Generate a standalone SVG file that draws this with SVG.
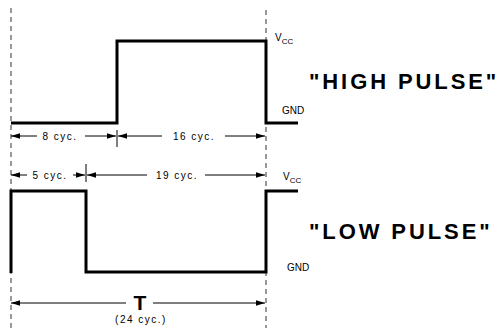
<svg xmlns="http://www.w3.org/2000/svg" width="504" height="328" viewBox="0 0 504 328">
<defs>
<marker id="ah" viewBox="0 0 10 6" refX="10" refY="3" markerWidth="9" markerHeight="5.4" markerUnits="userSpaceOnUse" orient="auto-start-reverse">
<path d="M0,0 L10,3 L0,6 Z" fill="#000"/>
</marker>
</defs>
<style>
.wave{fill:none;stroke:#000;stroke-width:3;stroke-linejoin:miter;stroke-linecap:butt}
.dash{stroke:#333;stroke-width:1;stroke-dasharray:5 4;fill:none}
.dim{stroke:#000;stroke-width:1;fill:none}
.tick{stroke:#000;stroke-width:1}
.lbl{font-family:"Liberation Sans",Arial,sans-serif;font-size:10px;letter-spacing:1.5px;fill:#000}
.rail{font-family:"Liberation Sans",Arial,sans-serif;font-size:10px;fill:#000}
.big{font-family:"Liberation Sans",Arial,sans-serif;font-size:22px;font-weight:bold;letter-spacing:2.9px;fill:#000}
.t{font-family:"Liberation Sans",Arial,sans-serif;font-size:21px;font-weight:bold;fill:#000}
</style>
<rect width="504" height="328" fill="#fff"/>
<g id="guides">
<line class="dash" x1="11" y1="8" x2="11" y2="328"/>
<line class="dash" x1="266" y1="10" x2="266" y2="328"/>
</g>
<g id="high-pulse">
<polyline class="wave" points="11,123 117,123 117,41 266,41 266,123 298,123"/>
<text class="rail" x="275" y="41">V<tspan font-size="8" dy="3">CC</tspan></text>
<text class="rail" x="282" y="114">GND</text>
<text class="big" x="309" y="89">"HIGH PULSE"</text>
</g>
<g id="low-pulse">
<polyline class="wave" points="11,273 11,191 86,191 86,272 266,272 266,191 298,191"/>
<text class="rail" x="283" y="180">V<tspan font-size="8" dy="3">CC</tspan></text>
<text class="rail" x="287" y="271">GND</text>
<text class="big" x="309" y="239">"LOW PULSE"</text>
</g>
<g id="connectors">
<line class="dim" x1="37" y1="136" x2="11" y2="136" marker-end="url(#ah)"/>
<line class="dim" x1="85" y1="136" x2="116" y2="136" marker-end="url(#ah)"/>
<line class="tick" x1="117" y1="130" x2="117" y2="147"/>
<line class="dim" x1="162" y1="136" x2="118" y2="136" marker-end="url(#ah)"/>
<line class="dim" x1="225" y1="136" x2="265" y2="136" marker-end="url(#ah)"/>
<line class="dim" x1="27" y1="175" x2="11" y2="175" marker-end="url(#ah)"/>
<line class="dim" x1="73" y1="175" x2="85" y2="175" marker-end="url(#ah)"/>
<line class="tick" x1="86" y1="164" x2="86" y2="182"/>
<line class="dim" x1="147" y1="175" x2="87" y2="175" marker-end="url(#ah)"/>
<line class="dim" x1="205" y1="175" x2="265" y2="175" marker-end="url(#ah)"/>
<line class="dim" x1="126" y1="303" x2="11" y2="303" marker-end="url(#ah)"/>
<line class="dim" x1="153" y1="303" x2="265" y2="303" marker-end="url(#ah)"/>
</g>
<g id="dim-labels">
<text class="lbl" x="60" y="140" text-anchor="middle">8 cyc.</text>
<text class="lbl" x="194" y="140" text-anchor="middle">16 cyc.</text>
<text class="lbl" x="50" y="179" text-anchor="middle">5 cyc.</text>
<text class="lbl" x="177" y="179" text-anchor="middle">19 cyc.</text>
<text class="t" x="140" y="310" text-anchor="middle">T</text>
<text class="lbl" x="141" y="323" text-anchor="middle">(24 cyc.)</text>
</g>
</svg>
